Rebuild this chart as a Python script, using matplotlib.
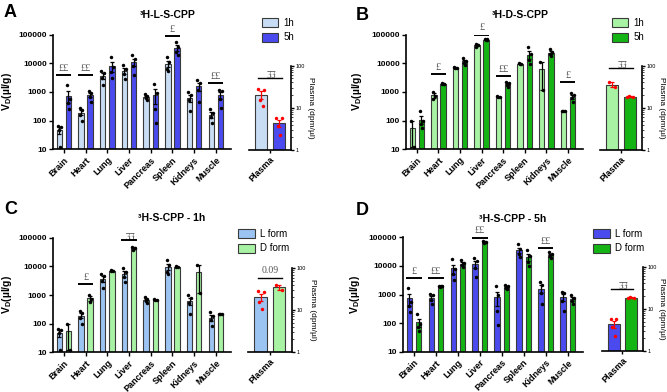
import numpy as np
import matplotlib
matplotlib.use("Agg")
import matplotlib.pyplot as plt
from matplotlib.patches import Patch
from matplotlib.ticker import LogLocator, NullFormatter

plt.rcParams['font.family'] = ['Liberation Sans', 'DejaVu Sans']
plt.rcParams['mathtext.fontset'] = 'custom'
plt.rcParams['mathtext.rm'] = 'Liberation Sans'
plt.rcParams['mathtext.bf'] = 'Liberation Sans:bold'

W, H = 667, 392

organs = ["Brain", "Heart", "Lung", "Liver", "Pancreas", "Spleen", "Kidneys", "Muscle"]

# per-animal Vd values (µl/g), one list per organ
L_1h = [[65, 60, 48, 12], [275, 240, 152, 100], [5300, 4600, 3100, 1800], [8500, 6600, 4400, 2900],
        [870, 720, 600, 520], [16500, 11000, 6600, 5300], [1000, 800, 510, 210], [250, 190, 130, 80]]
L_5h = [[1700, 560, 400, 250], [1050, 950, 670, 450], [16500, 7500, 5000, 3100], [19000, 14500, 8200, 4000],
        [1950, 950, 260, 85], [55000, 38000, 25000, 20000], [2700, 2100, 1150, 450], [1200, 1100, 590, 270]]
D_1h = [[100, 12], [1000, 730, 560], [7500, 7000, 6800], [48000, 42000, 38000],
        [700, 680, 650], [10000, 9500, 9200], [11500, 1150], [220, 215, 210]]
D_5h = [[210, 95, 75, 55], [2000, 1900, 1850, 1950], [15500, 12000, 10500, 9000], [70000, 66000, 64000, 68000],
        [2200, 2000, 1700, 1500], [36000, 22000, 13000, 9500], [31000, 25000, 21000, 18000], [950, 780, 600, 450]]

# plasma (dpm/µl)
plasma_L_1h = [28, 27, 15.6, 10.8]
plasma_L_5h = [5.9, 5.6, 3.7, 2.25]
plasma_D_1h = [40, 31]
plasma_D_5h = [18.5, 18, 19]

# significance: (organ index, bar height, label, upside down)
sig_A = [(0, 3800, "££", False), (1, 3800, "££", False), (5, 90000, "£", False), (7, 2050, "££", False)]
sig_B = [(1, 4200, "£", False), (3, 100000, "£", False), (4, 3650, "££", False), (7, 2250, "£", False)]
sig_C = [(1, 2350, "£", False), (3, 83000, "££", True)]
sig_D = [(0, 3750, "£", False), (1, 3750, "££", False), (3, 95000, "££", False), (6, 42000, "££", False)]
psig = {"A": (50, "££", True), "B": (87, "££", True), "C": (60, "0.09", False), "D": (29, "££", True)}

c_l1 = "#c8ddf4"
c_l5 = "#4a4aee"
c_d1 = "#a8f2a4"
c_d5 = "#14b414"
c_lc = "#9cc4f2"
EDGE = "#3a3a3a"
JIT = [-0.06, 0.06, -0.025, 0.03, 0.0]


def rect(l, t, r, b):
    return [l / W, 1 - b / H, (r - l) / W, (b - t) / H]


def stats(v):
    v = np.asarray(v, float)
    return v.mean(), v.std(ddof=1) / np.sqrt(len(v))


def draw_bar(ax, x, vals, color, w, floor, dotc, errc):
    m, s = stats(vals)
    ax.bar(x, m - floor, bottom=floor, width=w, color=color, edgecolor=EDGE, linewidth=0.8, zorder=2)
    lo = min(s, m - floor * 1.05)
    ax.errorbar(x, m, yerr=[[lo], [s]], fmt='none', ecolor=errc, elinewidth=0.9, capsize=1.6, capthick=0.9, zorder=3)
    jx = [x + JIT[k % len(JIT)] * (w / 0.25) for k in range(len(vals))]
    ax.plot(jx, vals, 'o', color=dotc, ms=2.5, mew=0, zorder=4)


def main_panel(rc, g1, g2, col1, col2, sigs, ylab_x):
    ax = fig.add_axes(rc)
    ax.set_yscale('log')
    for i in range(len(organs)):
        draw_bar(ax, i - 0.21, g1[i], col1, 0.25, 10, 'black', 'black')
        draw_bar(ax, i + 0.21, g2[i], col2, 0.25, 10, 'black', 'black')
    for i, y, t, flip in sigs:
        ax.plot([i - 0.35, i + 0.35], [y, y], color='black', lw=1.4, solid_capstyle='butt', zorder=5)
        ax.text(i, y * 1.2, t, ha='center', va='bottom', fontsize=7.5,
                family='Liberation Serif', color='#555555', rotation=180 if flip else 0)
    ax.set_ylim(10, 100000)
    ax.set_xlim(-0.5, 7.7)
    ax.set_yticks([10, 100, 1000, 10000, 100000])
    ax.set_yticklabels(["10", "100", "1000", "10000", "100000"], fontsize=6, fontweight='bold')
    ax.yaxis.set_minor_locator(LogLocator(base=10, subs=np.arange(2, 10)))
    ax.yaxis.set_minor_formatter(NullFormatter())
    ax.set_xticks(range(len(organs)))
    ax.set_xticklabels(organs, rotation=45, ha='right', rotation_mode='anchor', fontsize=6.5, fontweight='bold')
    for sp in ['top', 'right']:
        ax.spines[sp].set_visible(False)
    for sp in ['left', 'bottom']:
        ax.spines[sp].set_linewidth(1.2)
    ax.tick_params(axis='both', which='major', length=3, width=1, pad=1.5)
    ax.tick_params(axis='y', which='minor', length=1.8, width=0.6)
    ax.set_ylabel(r"V$_\mathbf{D}$(µl/g)", fontsize=7.5, fontweight='bold')
    ax.yaxis.set_label_coords(ylab_x, 0.5)
    return ax


def plasma_panel(rc, p1, p2, col1, col2, sig):
    ax = fig.add_axes(rc)
    ax.set_yscale('log')
    draw_bar(ax, -0.42, p1, col1, 0.58, 1, 'red', 'red')
    draw_bar(ax, 0.42, p2, col2, 0.58, 1, 'red', 'red')
    y, t, flip = sig
    ax.plot([-0.55, 0.55], [y, y], color='black', lw=1.0, zorder=5)
    ax.text(0, y * 1.12, t, ha='center', va='bottom', fontsize=7, family='Liberation Serif',
            color='#555555', rotation=180 if flip else 0)
    ax.set_ylim(1, 100)
    ax.set_xlim(-1, 1)
    ax.set_yticks([1, 10, 100])
    ax.set_yticklabels(["1", "10", "100"], fontsize=4)
    ax.yaxis.set_minor_locator(LogLocator(base=10, subs=np.arange(2, 10)))
    ax.yaxis.set_minor_formatter(NullFormatter())
    ax.yaxis.tick_right()
    ax.yaxis.set_label_position('right')
    ax.set_xticks([0])
    ax.set_xticklabels(["Plasma"], rotation=45, ha='right', rotation_mode='anchor', fontsize=6.5, fontweight='bold')
    for sp in ['top', 'left']:
        ax.spines[sp].set_visible(False)
    for sp in ['right', 'bottom']:
        ax.spines[sp].set_linewidth(1.2)
    ax.tick_params(axis='both', which='major', length=2.5, width=1, pad=1)
    ax.tick_params(axis='y', which='minor', length=1.5, width=0.5)
    ax.set_ylabel("Plasma (dpm/µl)", fontsize=6, rotation=270, va='center')
    ax.yaxis.set_label_coords(1.47, 0.5)
    return ax


def legend(x, y, cols, labels):
    hs = [Patch(facecolor=c, edgecolor=EDGE, linewidth=0.8) for c in cols]
    fig.legend(hs, labels, loc='upper left', bbox_to_anchor=(x / W, 1 - y / H), frameon=False,
               fontsize=7, handlelength=1.7, handleheight=1.05, handletextpad=0.55,
               labelspacing=0.45, borderpad=0, borderaxespad=0)


fig = plt.figure(figsize=(W / 100, H / 100), dpi=100)

main_panel(rect(53, 34.7, 231, 149.3), L_1h, L_5h, c_l1, c_l5, sig_A, -0.22)
main_panel(rect(406, 34.7, 583, 149.3), D_1h, D_5h, c_d1, c_d5, sig_B, -0.24)
main_panel(rect(53, 237.7, 231, 352.3), L_1h, D_1h, c_lc, c_d1, sig_C, -0.22)
main_panel(rect(403, 237, 583, 352), L_5h, D_5h, c_l5, c_d5, sig_D, -0.23)

plasma_panel(rect(249, 65.7, 291, 150), plasma_L_1h, plasma_L_5h, c_l1, c_l5, psig["A"])
plasma_panel(rect(600, 65.7, 642, 150), plasma_D_1h, plasma_D_5h, c_d1, c_d5, psig["B"])
plasma_panel(rect(248, 268.3, 291.7, 351.7), plasma_L_1h, plasma_D_1h, c_lc, c_d1, psig["C"])
plasma_panel(rect(601.7, 266.7, 642.7, 351), plasma_L_5h, plasma_D_5h, c_l5, c_d5, psig["D"])

legend(261.7, 18, [c_l1, c_l5], ["1h", "5h"])
legend(611.7, 18, [c_d1, c_d5], ["1h", "5h"])
legend(238, 229, [c_lc, c_d1], ["L form", "D form"])
legend(593, 229, [c_l5, c_d5], ["L form", "D form"])

titles = [(168, 15, "³H-L-S-CPP"), (520, 15, "³H-D-S-CPP"), (172, 218, "³H-S-CPP - 1h"), (513, 219, "³H-S-CPP - 5h")]
for x, y, t in titles:
    fig.text(x / W, 1 - y / H, t, ha='center', va='center', fontsize=7.5, fontweight='bold')

letters = [(4, 12.5, "A"), (356, 15, "B"), (4, 210, "C"), (356, 211, "D")]
for x, y, t in letters:
    fig.text(x / W, 1 - y / H, t, ha='left', va='center', fontsize=13, fontweight='bold')

fig.savefig("out.png", dpi=100)
